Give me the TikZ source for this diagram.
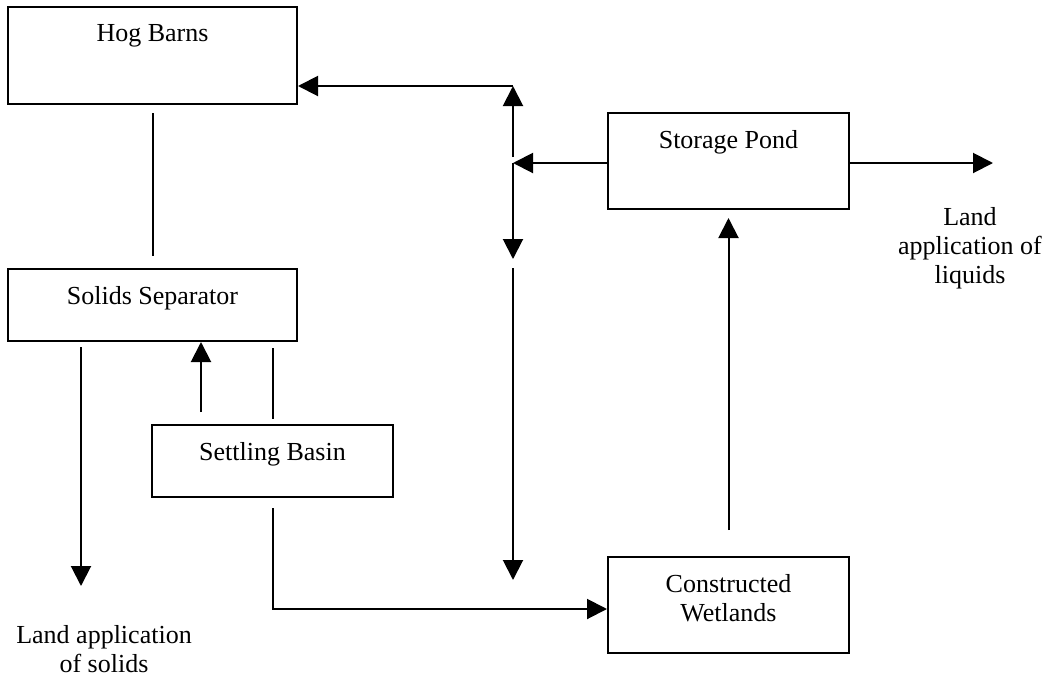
\documentclass[tikz,border=0pt]{standalone}
\usepackage{fontspec}
\setmainfont{Liberation Serif}
\usetikzlibrary{arrows.meta,positioning}

\tikzset{
    box/.style={draw, line width=1pt, minimum width=120.5pt, minimum height=48pt, inner sep=0pt},
    lbl/.style={inner sep=0pt, align=center, font=\fontsize{13}{14.5}\selectfont},
    ln/.style={line width=1pt},
    arr/.style={ln, -{Triangle[length=10pt,width=10pt]}},
}

\begin{document}
\begin{tikzpicture}[x=0.5pt,y=-0.5pt]
            \useasboundingbox (0,0) rectangle (1051,681);

            \node[box, minimum width=144.5pt, minimum height=48.5pt] (hog) at (152.5,55.5) {};
            \node[box, minimum width=144.5pt, minimum height=36pt] (sep) at (152.5,305) {};
            \node[box, minimum height=36pt] (basin) at (272.5,461) {};
            \node[box] (pond) at (728.5,161) {};
            \node[box] (wet) at (728.5,605) {};

            \node[lbl, anchor=north, yshift=-9.1pt] (hogtxt) at (hog.north) {Hog Barns};
            \node[lbl, anchor=north, yshift=-9.1pt] (septxt) at (sep.north) {Solids Separator};
            \node[lbl, anchor=north, yshift=-9.1pt] (basintxt) at (basin.north) {Settling Basin};
            \node[lbl, anchor=north, yshift=-9.1pt] (pondtxt) at (pond.north) {Storage Pond};
            \node[lbl, anchor=north, yshift=-9.1pt] (wettxt) at (wet.north) {Constructed\\Wetlands};

            \node[lbl, anchor=north] (solids) at (104,625) {Land application\\of solids};
            \node[lbl, anchor=north] (liquids) at (970,207) {Land\\application of\\liquids};

            \coordinate (solidsend) at (81,586);
            \coordinate (liqend) at (993,163);
            \coordinate (jtop) at (513,86);
            \coordinate (jup) at (513,157);
            \coordinate (jmid) at (513,163);
            \coordinate (jdn) at (513,259);
            \coordinate (jlo) at (513,268);
            \coordinate (jbot) at (513,580);

            \draw[ln, shorten <=4pt, shorten >=6pt] (hog) -- (sep);
            \draw[arr, shorten <=2.5pt] (solidsend |- sep.south) -- (solidsend);
            \draw[arr, shorten <=6pt] (201,0 |- basin.north) -- (201,0 |- sep.south);
            \draw[ln, shorten <=3pt, shorten >=2.5pt] (sep.south -| basin) -- (basin);
            \draw[arr, shorten <=5pt] (basin) |- ([yshift=-2pt]wet.west);
            \draw[arr, shorten <=13pt, shorten >=4pt] (wet) -- (pond);
            \draw[arr] (pond.east |- liqend) -- (liqend);
            \draw[arr] (pond.west |- jmid) -- (jmid);
            \draw[arr] (jtop) -- (hog.east |- jtop);
            \draw[arr] (jup) -- (jtop);
            \draw[arr] (jmid) -- (jdn);
            \draw[arr] (jlo) -- (jbot);

        \end{tikzpicture}
\end{document}
